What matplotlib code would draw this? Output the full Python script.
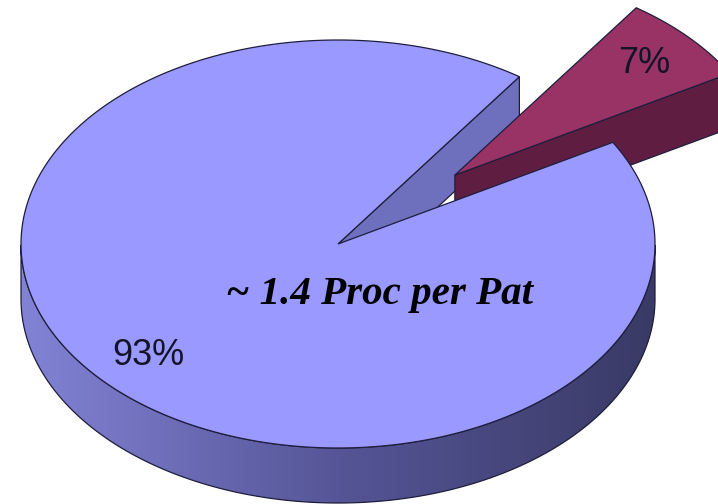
import numpy as np
import matplotlib
matplotlib.use("Agg")
import matplotlib.pyplot as plt
from matplotlib.patches import Polygon
from matplotlib.colors import LinearSegmentedColormap

# ---- data ----
values = [93, 7]
pct_labels = ["93%", "7%"]
explode = [0.0, 0.5]
start_angle = 55.1          # degrees, counter-clockwise
center_text = "~ 1.4 Proc per Pat"

# ---- style ----
top_colors = ["#9999FF", "#993366"]
face_colors = ["#6E70BE", "#5F1E41"]
side_grads = [["#8383D6", "#555597", "#3A3A66"], ["#7A2A52", "#5F1E41", "#40142C"]]
edge_col = "#1E1E3C"

# layout of projected pie (pixel frame)
CX, CY, RX, RY, DEPTH = 338, 244, 317, 204, 55

fig = plt.figure(figsize=(7.18, 5.04), dpi=100)
ax = fig.add_axes([0, 0, 1, 1])
ax.set_xlim(0, 718)
ax.set_ylim(504, 0)
ax.axis("off")


def pt(theta, r, ox, oy, z=0.0):
    t = np.radians(theta)
    return np.column_stack([ox + RX * r * np.cos(t), oy - RY * r * np.sin(t) + z])


total = float(sum(values))
slices = []
a = start_angle
for v, e in zip(values, explode):
    a0, a1 = a, a + 360.0 * v / total
    mid = 0.5 * (a0 + a1)
    ox = CX + RX * e * np.cos(np.radians(mid))
    oy = CY - RY * e * np.sin(np.radians(mid))
    slices.append((a0, a1, mid, ox, oy))
    a = a1

z = 1
# side walls and cut faces
for i, (a0, a1, mid, ox, oy) in enumerate(slices):
    th = np.linspace(a0, a1, 600)
    vis = np.sin(np.radians(th)) <= 0
    # contiguous visible runs of the outer wall
    runs = []
    cur = []
    for t, m in zip(th, vis):
        if m:
            cur.append(t)
        elif cur:
            runs.append(cur)
            cur = []
    if cur:
        runs.append(cur)
    cmap = LinearSegmentedColormap.from_list("g%d" % i, side_grads[i])
    for run in runs:
        run = np.array(run)
        top = pt(run, 1.0, ox, oy)
        bot = pt(run[::-1], 1.0, ox, oy, DEPTH)
        poly = np.vstack([top, bot])
        patch = Polygon(poly, closed=True, facecolor="none", edgecolor=edge_col,
                        lw=0.9, zorder=z + 1)
        ax.add_patch(patch)
        grad = np.linspace(0, 1, 256).reshape(1, -1)
        xl, xr = ox - RX, ox + RX
        im = ax.imshow(grad, extent=(xl, xr, poly[:, 1].max(), poly[:, 1].min()),
                       aspect="auto", cmap=cmap, zorder=z, interpolation="bilinear")
        im.set_clip_path(patch)
        z += 2
    # cut faces
    c_top = np.array([ox, oy])
    for ang, sgn in ((a0, 1), (a1, -1)):
        visible = np.cos(np.radians(ang)) * sgn > 0
        if not visible:
            continue
        rim = pt(np.array([ang]), 1.0, ox, oy)[0]
        poly = np.array([c_top, rim, rim + [0, DEPTH], c_top + [0, DEPTH]])
        ax.add_patch(Polygon(poly, closed=True, facecolor=face_colors[i],
                             edgecolor=edge_col, lw=0.9, zorder=z))
        z += 1

# top faces (exploded slices first, main body last)
for i in reversed(range(len(slices))):
    a0, a1, mid, ox, oy = slices[i]
    th = np.linspace(a0, a1, 600)
    arc = pt(th, 1.0, ox, oy)
    poly = np.vstack([[ox, oy], arc])
    ax.add_patch(Polygon(poly, closed=True, facecolor=top_colors[i],
                         edgecolor=edge_col, lw=0.9, zorder=z))
    z += 1

# percentage labels
for i, (a0, a1, mid, ox, oy) in enumerate(slices):
    lx, ly = pt(np.array([mid]), 0.81, ox, oy)[0]
    ax.text(lx, ly, pct_labels[i], ha="center", va="center", fontsize=26,
            family="Liberation Sans", color="#141428", zorder=z + 5)

ax.text(379, 304, center_text, ha="center", va="baseline", fontsize=29.5,
        family="Liberation Serif", fontweight="bold", fontstyle="italic",
        color="black", zorder=z + 6)

fig.savefig("out.png", dpi=100, facecolor="white")
